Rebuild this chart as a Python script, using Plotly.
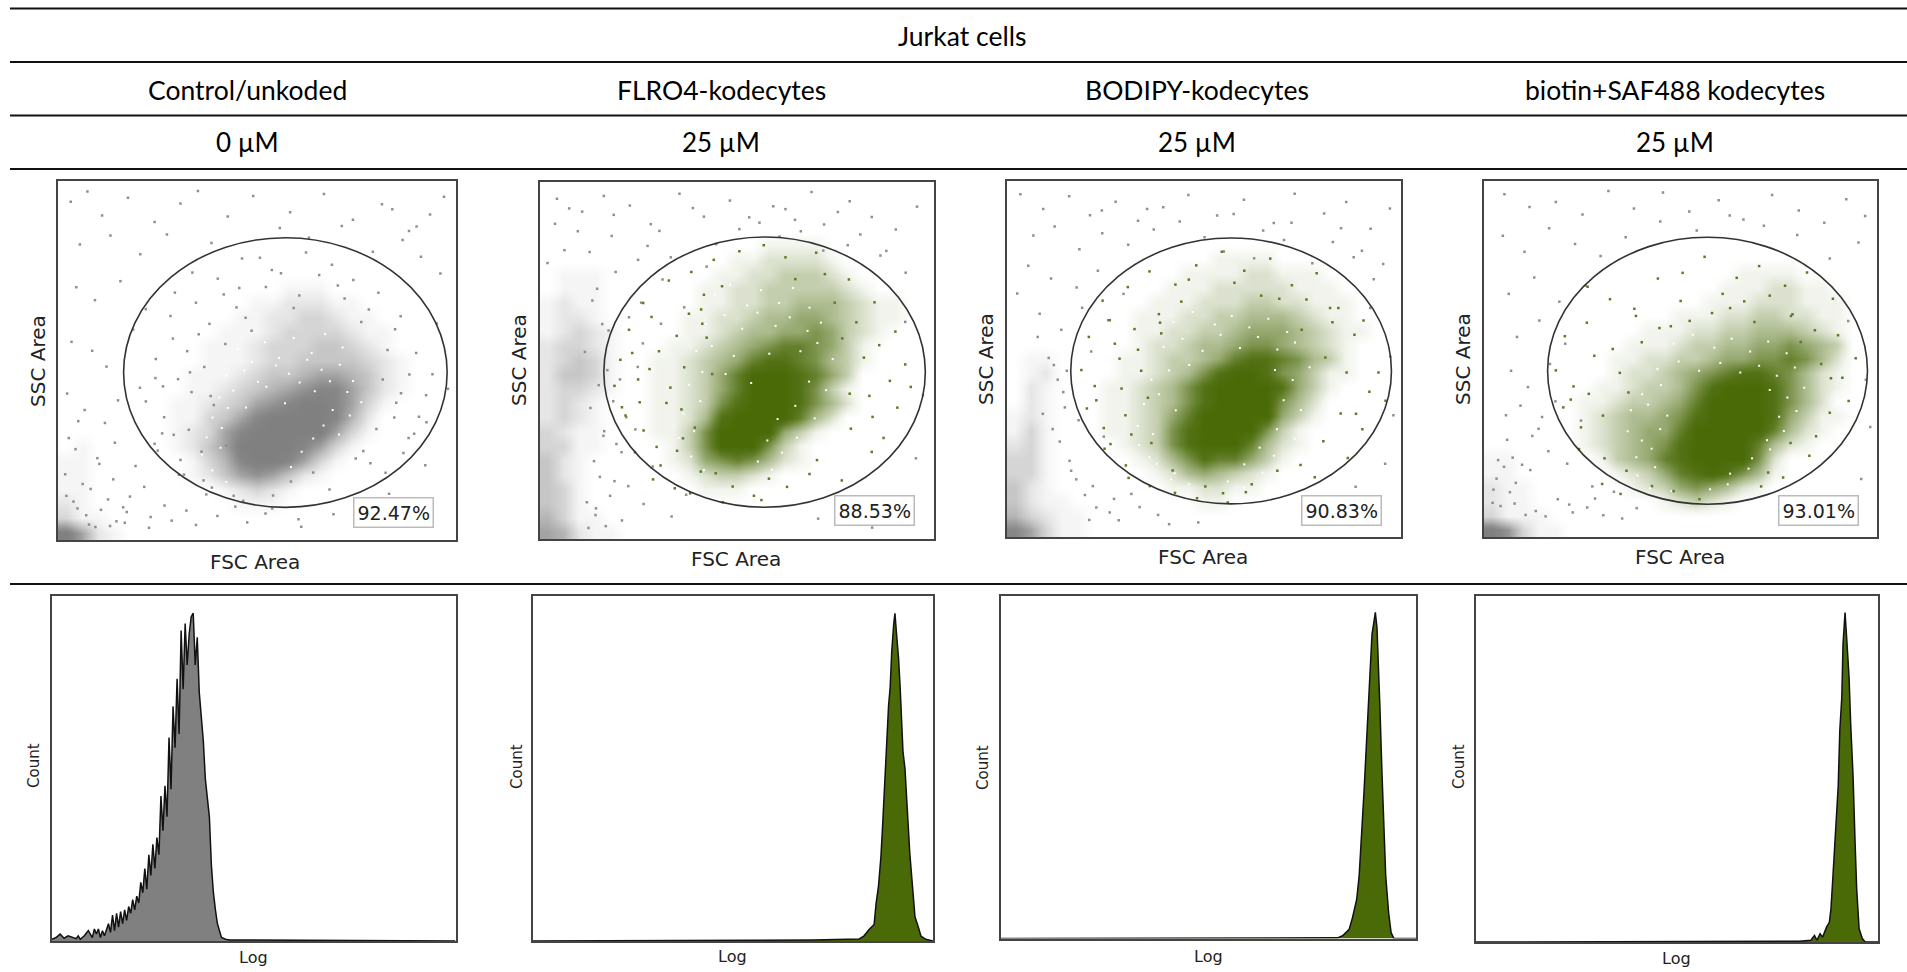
import plotly.graph_objects as go

W, H = 1907, 972
GREEN = "#4a6a08"
GREY = "#808080"

# ---------- text ----------
TITLE = "Jurkat cells"
COLUMNS = ["Control/unkoded", "FLRO4-kodecytes", "BODIPY-kodecytes", "biotin+SAF488 kodecytes"]
DOSES = ["0 µM", "25 µM", "25 µM", "25 µM"]
GATE_PCT = ["92.47%", "88.53%", "90.83%", "93.01%"]

# ---------- gate ellipses, in axis units (x0, x1, y0, y1) ----------
GATES = [
    (16.5, 97.9, 9.1, 84.2),
    (16.2, 97.8, 8.9, 84.6),
    (16.2, 97.7, 9.3, 84.0),
    (16.2, 97.7, 9.2, 84.2),
]

# ---------- density: y row -> (first column, digits 0-9) ----------
CLOUD_1 = {70: (14, "111"), 66: (12, "1122211"), 62: (11, "112233211"), 58: (10, "11123333211"),
           54: (9, "111233344321"), 50: (9, "1112334444321"), 46: (8, "11123445665421"),
           42: (8, "11234567886421"), 38: (7, "11234678998631"), 34: (7, "1134689999852"),
           30: (7, "1236899999631"), 26: (7, "124699998631"), 22: (8, "1358998631"),
           18: (8, "124676421"), 14: (10, "12321"), 10: (11, "111")}
CLOUD_2 = {82: (14, "1111"), 78: (12, "1122221"), 74: (11, "112233321"), 70: (10, "11223333321"),
           66: (10, "1122334443211"), 62: (9, "11223445543211"), 58: (9, "1123445565321"),
           54: (8, "1123456776531"), 50: (7, "11234578876431"), 46: (7, "1123579998753"),
           42: (7, "1123579998631"), 38: (7, "1123689998642"), 34: (7, "112489999742"),
           30: (7, "11369999531"), 26: (8, "136999631"), 22: (8, "125676421"), 18: (9, "123321"), 14: (10, "111")}
CLOUD_3 = {78: (13, "1111"), 74: (11, "111122111"), 70: (10, "11122222111"), 66: (9, "1112223322111"),
           62: (8, "11122334443211"), 58: (8, "112233455543211"), 54: (8, "12234456654321"),
           50: (7, "112334578876431"), 46: (7, "112346899865311"), 42: (6, "112346899998531"),
           38: (6, "11234689999642"), 34: (6, "11235799999531"), 30: (6, "1123689999631"),
           26: (7, "123689997421"), 22: (8, "1246877531"), 18: (9, "12454321"), 14: (10, "112211"), 10: (12, "11")}
CLOUD_4 = {74: (16, "1111"), 70: (15, "1112211"), 66: (14, "111222111"), 62: (12, "11122332211"),
           58: (10, "1112233444321"), 54: (9, "11123344556543"), 50: (8, "112233455667642"),
           46: (8, "122345678876421"), 42: (7, "1123346899986421"), 38: (6, "1123345799998642"),
           34: (6, "12344568999985311"), 30: (6, "1234557999997421"), 26: (6, "123456899997421"),
           22: (7, "134578999962"), 18: (8, "12357898641"), 14: (9, "123565421"), 10: (11, "12321")}
DEBRIS_1 = {26: (1, "1"), 22: (0, "11"), 18: (0, "11"), 14: (0, "11"), 10: (0, "21"), 6: (0, "311"), 2: (0, "9621")}
DEBRIS_2 = {74: (1, "111"), 70: (1, "111"), 66: (0, "1211"), 62: (0, "1221"), 58: (0, "12321"), 54: (0, "23321"),
            50: (0, "23431"), 46: (0, "24431"), 42: (0, "23321"), 38: (0, "2321"), 34: (0, "2321"), 30: (0, "3211"),
            26: (0, "3311"), 22: (0, "421"), 18: (0, "421"), 14: (0, "431"), 10: (0, "431"), 6: (0, "5311"), 2: (0, "65211")}
DEBRIS_3 = {50: (1, "11"), 46: (1, "12"), 42: (1, "21"), 38: (1, "21"), 34: (0, "121"), 30: (0, "131"), 26: (0, "231"),
            22: (0, "331"), 18: (0, "331"), 14: (0, "421"), 10: (0, "4211"), 6: (0, "53211"), 2: (0, "86311")}
DEBRIS_4 = {22: (0, "11"), 18: (0, "11"), 14: (0, "211"), 10: (0, "211"), 6: (0, "3111"), 2: (0, "97311")}

# ---------- sparse events ----------
OUT_X_1 = [3.2, 7.4, 11.1, 17.6, 24.3, 30.8, 35.2, 42.7, 49.1, 58.4, 66.9, 74.2, 81.5, 88.3, 93.6, 97.1, 5.5, 13.2, 20.7, 27.4, 38.6, 46.3, 55.8, 63.1, 71.4, 79.2, 86.7, 91.3, 96.2,
           4.6, 9.3, 15.7, 22.1, 29.4, 33.8, 3.4, 8.6, 12.2, 18.9, 24.5, 2.3, 6.7, 11.8, 15.1, 20.6, 26.2, 4.4, 9.9, 14.3, 19.5, 25.1, 31.7, 37.3, 44.6, 52.2, 60.5, 77.8, 95.3, 98.1, 92.4,
           1.8, 6.2, 10.4, 13.9, 18.1, 21.7, 26.8, 32.3, 40.1, 47.6, 53.9, 61.2, 69.3, 76.5, 84.1, 90.2, 2.7, 5.1, 8.2, 12.6, 16.4, 23.3, 3.9, 7.1, 10.8, 14.7, 17.3, 28.6, 34.7, 2.1, 4.9, 7.8, 9.4, 13.1, 16.8, 22.9]
OUT_Y_1 = [94.2, 97.1, 90.4, 95.3, 88.6, 93.7, 97.2, 90.1, 95.8, 91.3, 96.4, 89.2, 93.5, 86.1, 90.7, 95.6, 82.3, 84.8, 79.6, 85.1, 82.7, 78.4, 86.9, 84.2, 87.5, 80.3, 83.6, 78.9, 74.2,
           70.4, 66.8, 72.1, 64.3, 68.9, 74.5, 55.2, 52.7, 48.3, 58.6, 45.1, 40.8, 36.2, 32.6, 38.9, 42.4, 29.7, 25.3, 22.8, 27.1, 20.6, 24.9, 18.2, 12.7, 9.3, 7.4, 5.8, 4.6, 60.3, 42.1, 20.8,
           18.3, 15.6, 21.2, 16.9, 12.1, 14.8, 9.6, 8.2, 6.7, 4.9, 8.8, 3.7, 7.2, 5.6, 92.1, 87.3, 28.4, 33.1, 14.2, 11.3, 9.1, 6.4, 10.7, 6.9, 8.4, 5.2, 7.8, 5.4, 4.2, 12.3, 8.8, 4.3, 3.6, 3.9, 4.8, 3.4]
IN_X_1 = [28.3, 34.7, 40.2, 45.6, 50.8, 56.1, 62.4, 68.9, 74.3, 80.6, 86.2, 32.5, 38.1, 44.9, 52.3, 60.7, 70.4, 78.2, 84.8, 90.1, 24.6, 30.2, 36.8, 42.1, 48.7, 76.3, 82.9, 88.4, 92.6,
          22.1, 26.7, 32.9, 38.4, 86.3, 90.8, 94.2, 24.3, 30.8, 36.1, 84.6, 88.2, 92.7, 30.4, 36.6, 42.3, 80.1, 86.9, 38.7, 44.2, 76.8, 82.4, 46.6, 54.1, 68.3, 74.9, 58.6, 64.2,
          35.4, 41.7, 47.2, 53.8, 59.3, 65.7, 72.1, 28.9, 33.6, 39.2, 81.7, 85.1, 89.6, 33.2, 29.1, 26.4, 78.6, 83.3]
IN_Y_1 = [62.4, 66.1, 72.8, 70.2, 78.6, 74.3, 80.1, 76.7, 72.4, 68.9, 62.3, 52.6, 60.2, 64.8, 70.5, 68.1, 70.9, 64.2, 58.7, 52.1, 50.4, 44.8, 48.2, 54.6, 58.3, 60.7, 52.9, 46.1, 40.3,
          38.6, 34.2, 30.7, 40.1, 40.9, 34.3, 46.2, 26.8, 22.3, 24.6, 34.1, 28.4, 32.8, 18.2, 16.6, 26.3, 30.9, 24.2, 14.6, 12.3, 24.8, 18.7, 10.9, 12.4, 14.1, 22.7, 16.3, 18.8,
          57.3, 68.4, 61.9, 75.2, 64.6, 73.8, 67.3, 56.1, 41.2, 37.6, 44.7, 38.2, 29.6, 46.7, 29.3, 42.8, 21.4, 12.9]
WHITE_X_1 = [45.2, 48.7, 52.1, 55.6, 59.3, 63.8, 67.2, 71.6, 42.4, 46.9, 50.3, 54.8, 58.1, 62.7, 66.3, 70.9, 74.2, 40.6, 44.1, 72.8, 76.3, 38.9, 42.7, 69.1, 73.4, 37.4, 41.2, 66.8, 70.7, 36.2, 40.9, 64.2, 38.8, 61.3, 42.3, 58.6, 52.4, 57.1, 60.8, 64.6, 68.4, 47.3]
WHITE_Y_1 = [53.2, 49.6, 55.1, 50.7, 56.3, 52.1, 57.4, 53.6, 45.8, 47.2, 44.1, 48.6, 46.3, 50.2, 47.4, 48.8, 44.3, 39.7, 41.6, 41.2, 38.4, 34.1, 36.8, 36.2, 34.7, 28.6, 31.2, 31.9, 29.4, 23.8, 25.7, 28.3, 19.4, 24.6, 16.2, 20.3, 42.7, 38.1, 43.9, 41.4, 44.2, 36.9]
OUT_X_2 = [4.3, 10.7, 16.2, 22.8, 28.1, 35.4, 41.6, 48.2, 55.7, 62.3, 68.9, 72.1, 78.6, 84.2, 90.3, 95.7, 12.6, 18.2, 24.9, 30.3, 44.7, 53.1, 60.8, 66.2, 71.9, 78.1, 86.4, 92.8,
           14.5, 19.2, 25.7, 31.1, 36.6, 42.3, 17.4, 22.6, 26.1, 30.7, 20.3, 24.8, 18.6, 21.9, 16.1, 20.7, 24.2, 18.9, 22.4, 28.6, 14.2, 20.8, 26.3, 33.4, 37.1, 70.6, 84.3, 92.7, 97.2, 95.4,
           13.3, 15.8, 11.4, 17.1, 14.9, 12.8, 16.3, 19.4, 13.7, 15.2, 17.8, 11.9, 14.1, 16.7, 12.3, 75.6, 81.3, 87.9, 59.2, 64.7, 50.6, 38.8, 33.2, 27.3, 18.7, 9.6, 6.2, 1.9, 3.8, 7.4]
OUT_Y_2 = [95.3, 91.7, 96.1, 93.4, 88.2, 96.7, 90.3, 94.8, 88.6, 92.4, 97.2, 88.1, 94.6, 90.2, 86.7, 93.1, 80.4, 84.9, 78.2, 86.3, 82.6, 90.1, 84.7, 86.2, 80.8, 82.3, 79.4, 74.6,
           70.1, 74.8, 66.2, 72.7, 64.9, 76.3, 58.4, 62.1, 54.8, 60.3, 44.7, 48.2, 38.6, 34.1, 28.9, 24.3, 30.7, 16.2, 14.8, 20.3, 8.6, 5.2, 9.8, 6.3, 12.4, 5.7, 3.2, 60.8, 40.3, 22.6,
           66.8, 60.2, 52.4, 47.3, 43.1, 36.7, 30.2, 26.6, 21.8, 17.4, 12.1, 10.3, 6.7, 3.6, 3.1, 91.6, 85.3, 80.7, 93.2, 89.4, 86.8, 92.7, 78.9, 82.1, 90.8, 86.2, 80.9, 77.3, 88.3, 92.6]
IN_X_2 = [26.2, 32.7, 38.4, 44.1, 50.6, 56.8, 62.3, 70.1, 78.4, 84.9, 90.2, 22.6, 28.3, 34.7, 40.9, 46.2, 74.8, 80.3, 86.1, 92.7, 20.4, 24.9, 30.2, 36.6, 42.3, 76.7, 82.2, 88.8, 94.1,
          20.8, 26.3, 32.1, 78.6, 84.4, 90.7, 24.1, 30.6, 36.3, 78.9, 84.2, 28.7, 34.2, 40.8, 70.3, 76.6, 38.1, 46.4, 56.2, 62.7, 68.4, 48.9, 54.3, 44.6, 58.1,
          23.4, 27.8, 33.1, 35.9, 29.6, 37.8, 41.2, 43.7, 25.3, 18.9, 21.7, 83.6, 87.2, 72.3, 64.8, 41.6, 39.3, 34.8]
IN_Y_2 = [66.1, 72.4, 74.8, 78.2, 80.6, 82.3, 78.9, 80.2, 72.7, 66.3, 58.1, 58.6, 62.2, 56.9, 64.3, 70.8, 66.2, 60.7, 54.3, 48.9, 50.2, 44.7, 52.6, 48.1, 56.4, 56.2, 50.8, 44.3, 42.6,
          36.9, 30.4, 38.1, 40.7, 34.2, 36.8, 24.3, 20.6, 28.2, 30.9, 24.4, 16.7, 14.2, 18.9, 22.1, 16.4, 12.8, 10.3, 10.9, 14.6, 18.2, 14.7, 12.1, 18.4, 16.9,
          52.1, 47.6, 42.4, 36.3, 25.8, 63.1, 60.3, 46.2, 38.3, 42.9, 34.6, 40.1, 28.3, 74.2, 72.8, 68.4, 31.2, 24.7]
WHITE_X_2 = [44.3, 48.2, 52.6, 56.1, 60.7, 64.2, 68.4, 42.1, 46.8, 51.3, 55.2, 59.8, 63.4, 67.9, 71.3, 39.7, 43.6, 49.2, 66.1, 70.4, 74.3, 37.8, 41.2, 68.3, 72.6, 36.4, 40.7, 64.8, 69.7, 35.2, 39.1, 60.3, 65.2, 38.4, 57.7, 61.4, 41.6, 55.3, 58.9, 47.1, 53.6, 58.2]
WHITE_Y_2 = [68.3, 71.2, 65.4, 69.7, 66.1, 70.3, 64.8, 60.2, 62.7, 58.9, 63.4, 59.7, 62.1, 58.3, 60.6, 52.7, 54.1, 51.3, 52.6, 54.9, 50.4, 43.2, 46.8, 44.1, 41.7, 35.1, 38.6, 37.3, 33.8, 28.3, 30.2, 33.6, 28.4, 23.1, 27.6, 24.2, 19.3, 21.7, 19.4, 46.2, 43.7, 51.9]
OUT_X_3 = [3.4, 9.2, 15.8, 21.1, 27.6, 33.3, 39.7, 46.1, 53.4, 60.2, 67.8, 73.1, 80.6, 86.2, 92.4, 97.3, 6.7, 12.1, 18.4, 24.2, 30.8, 37.3, 43.9, 50.2, 57.6, 65.1, 72.3, 82.8, 90.2, 95.6,
           5.4, 11.2, 17.7, 23.1, 29.6, 8.3, 13.8, 19.1, 25.7, 10.6, 15.2, 21.4, 14.7, 18.2, 24.6, 16.3, 21.8, 27.2, 33.7, 38.4, 20.9, 26.1, 31.6, 92.3, 97.4, 98.2, 96.1, 88.6, 76.3, 82.7,
           12.9, 14.3, 9.1, 11.6, 13.4, 15.9, 17.6, 19.8, 22.7, 28.4, 41.2, 48.6, 55.1, 62.8, 70.4, 77.6, 84.9, 93.2, 88.1, 35.6, 24.1, 2.6, 7.8, 11.9]
OUT_Y_3 = [96.3, 92.1, 95.7, 90.4, 94.2, 88.8, 92.6, 96.1, 90.3, 94.7, 88.2, 96.4, 90.9, 94.1, 86.6, 92.3, 84.7, 87.2, 80.8, 85.3, 82.1, 86.4, 88.6, 84.2, 90.7, 86.1, 88.3, 82.9, 80.4, 76.7,
           76.2, 72.6, 70.1, 74.8, 68.3, 62.7, 58.2, 64.4, 60.9, 50.3, 46.7, 52.1, 36.4, 32.8, 28.2, 18.6, 14.3, 10.7, 8.4, 6.2, 4.8, 6.9, 12.1, 64.3, 50.7, 34.2, 20.6, 14.1, 4.3, 6.6,
           44.2, 40.7, 34.6, 30.3, 26.8, 21.4, 16.2, 11.8, 8.3, 4.7, 3.6, 4.1, 80.2, 78.3, 83.4, 76.9, 86.7, 72.4, 78.6, 92.1, 91.7, 68.4, 56.2, 48.3]
IN_X_3 = [24.3, 30.7, 36.2, 42.8, 48.1, 54.6, 60.3, 66.9, 72.4, 78.7, 84.2, 90.6, 20.8, 26.1, 32.4, 38.6, 44.3, 76.1, 82.7, 88.3, 94.4, 18.9, 22.3, 28.6, 34.1, 80.9, 86.3, 92.1, 96.2,
          20.3, 24.6, 30.1, 84.8, 90.3, 24.8, 30.2, 36.7, 80.4, 86.6, 30.9, 36.3, 42.1, 74.6, 78.2, 42.7, 48.3, 54.9, 62.2, 68.7, 50.4, 56.1, 60.7,
          27.4, 33.3, 39.2, 22.7, 29.1, 35.8, 26.3, 31.6, 38.9, 88.7, 82.1, 69.2, 74.9, 57.8, 64.6, 46.2]
IN_Y_3 = [66.4, 70.2, 74.6, 70.9, 76.3, 80.1, 74.8, 78.2, 70.7, 74.1, 64.3, 60.8, 56.2, 60.9, 58.4, 62.6, 66.1, 66.7, 60.3, 56.8, 46.2, 46.9, 42.4, 50.1, 46.7, 50.4, 46.2, 40.8, 38.3,
          36.1, 30.6, 34.2, 34.7, 30.3, 24.8, 20.1, 26.4, 26.9, 22.2, 16.6, 14.3, 18.7, 20.2, 16.8, 12.4, 10.9, 12.3, 14.8, 18.6, 14.2, 9.7, 12.6,
          54.3, 52.6, 57.2, 38.4, 41.7, 39.1, 26.1, 28.8, 60.2, 34.6, 64.3, 66.9, 58.2, 71.4, 67.8, 72.3]
WHITE_X_3 = [42.3, 47.2, 52.8, 57.1, 61.6, 66.4, 71.2, 39.8, 44.6, 49.7, 54.3, 59.2, 63.8, 68.7, 73.2, 36.7, 41.2, 46.3, 68.1, 72.6, 76.9, 34.8, 38.6, 42.9, 70.3, 74.7, 33.2, 37.1, 68.6, 73.1, 33.6, 36.2, 64.2, 67.8, 38.1, 42.6, 60.3, 64.9, 41.7, 46.3, 56.1, 60.2]
WHITE_Y_3 = [60.4, 63.2, 59.7, 62.1, 58.9, 61.3, 57.6, 53.4, 55.7, 52.3, 56.8, 53.1, 56.2, 52.7, 54.6, 44.2, 46.8, 48.3, 46.9, 44.1, 47.7, 37.3, 40.1, 35.6, 38.4, 35.7, 31.2, 28.9, 30.3, 27.6, 25.8, 22.4, 25.1, 22.8, 20.6, 17.9, 20.4, 18.1, 16.2, 14.8, 15.6, 13.9]
OUT_X_4 = [5.2, 11.6, 18.3, 25.1, 31.7, 38.2, 45.6, 52.3, 59.8, 66.1, 73.4, 80.2, 86.7, 92.3, 97.1, 4.8, 10.3, 16.6, 23.2, 29.7, 36.1, 44.9, 54.2, 62.6, 71.3, 79.8, 88.1, 95.4,
           6.3, 12.8, 19.2, 25.9, 8.4, 14.1, 20.7, 6.9, 11.2, 16.8, 5.6, 9.3, 13.9, 18.2, 24.7, 7.3, 11.8, 16.4, 21.2, 27.6, 33.1, 38.9, 3.2, 6.6, 9.7, 92.8, 97.3, 98.4, 96.1, 88.6, 78.2, 85.3,
           2.4, 4.2, 7.8, 10.6, 13.2, 15.7, 18.8, 22.6, 26.3, 30.4, 35.2, 12.3, 14.8, 3.6, 5.9, 8.1, 21.7, 28.3, 2.2, 5.1]
OUT_Y_4 = [96.3, 92.7, 94.1, 90.6, 97.2, 92.3, 96.8, 91.4, 94.6, 89.2, 96.1, 91.7, 88.3, 94.9, 90.2, 84.6, 80.1, 86.7, 82.3, 78.9, 84.2, 88.6, 86.1, 90.3, 87.4, 84.8, 78.2, 82.7,
           68.3, 72.9, 66.1, 70.6, 56.2, 60.8, 54.3, 46.7, 42.1, 48.6, 34.2, 36.9, 30.4, 38.1, 32.7, 22.3, 18.8, 24.1, 20.6, 14.2, 12.7, 8.1, 16.4, 12.6, 20.3, 60.7, 44.2, 30.9, 16.3, 10.8, 4.1, 6.7,
           13.3, 8.7, 9.4, 6.2, 7.3, 5.8, 10.6, 6.9, 8.3, 6.1, 5.2, 28.4, 33.7, 21.6, 27.3, 15.2, 9.1, 10.8, 9.6, 19.7]
IN_X_4 = [26.4, 32.1, 38.7, 44.3, 50.6, 56.2, 60.8, 64.4, 70.1, 76.7, 82.3, 88.9, 20.6, 26.2, 32.8, 38.3, 44.7, 50.1, 78.6, 84.3, 90.2, 94.7, 18.3, 22.8, 28.1, 34.6, 40.2, 88.4, 92.9,
          20.2, 24.7, 30.3, 36.8, 88.1, 84.6, 24.2, 30.7, 36.3, 78.1, 82.9, 72.4, 76.2, 42.8, 48.3, 54.9, 70.6, 30.1, 34.8,
          62.7, 66.3, 72.8, 78.2, 68.9, 58.1, 52.4, 47.6, 80.7, 85.9, 91.3, 26.7, 22.1]
IN_Y_4 = [70.3, 66.8, 62.1, 72.6, 74.2, 78.7, 68.3, 72.8, 76.1, 70.6, 74.3, 66.9, 56.4, 60.2, 52.8, 64.1, 58.7, 66.3, 62.6, 58.1, 56.7, 50.2, 46.8, 42.3, 50.9, 46.1, 54.7, 44.6, 38.2,
          36.4, 30.8, 34.1, 40.6, 34.9, 28.3, 24.7, 22.1, 18.6, 26.4, 22.8, 18.1, 16.7, 14.3, 12.9, 10.6, 14.2, 14.9, 12.1,
          64.3, 66.2, 67.8, 62.1, 60.4, 62.9, 60.7, 59.2, 54.8, 48.6, 44.7, 40.2, 38.6]
WHITE_X_4 = [48.3, 53.2, 58.7, 63.1, 67.8, 72.4, 77.1, 44.2, 49.6, 54.8, 60.2, 65.3, 70.1, 74.6, 79.2, 40.3, 45.1, 72.8, 77.3, 81.6, 37.4, 41.8, 46.7, 75.2, 79.6, 36.6, 40.2, 44.9, 72.1, 76.4, 38.8, 42.7, 68.3, 72.9, 39.1, 43.6, 62.7, 67.4, 42.3, 47.8, 57.6, 62.1]
WHITE_Y_4 = [54.3, 56.8, 53.2, 55.7, 52.1, 54.9, 51.6, 47.2, 49.3, 46.7, 48.9, 46.2, 48.1, 45.3, 47.6, 40.1, 42.7, 41.3, 39.2, 41.9, 35.6, 37.2, 34.1, 33.8, 35.4, 29.7, 27.1, 30.3, 27.2, 29.8, 22.4, 24.8, 22.1, 24.6, 17.3, 19.6, 17.8, 19.2, 13.7, 12.9, 13.4, 14.8]

# ---------- histograms: log bin position and count in percent of the frame ----------
HIST_X_1 = [0, 1, 2, 3, 4, 5, 6, 6.5, 7, 8, 9, 10, 10.5, 11, 11.5, 12, 12.5, 13, 14, 14.5, 15, 15.5, 16, 16.5, 17, 17.5, 18, 18.5,
            19, 19.5, 20, 20.5, 21, 21.5, 22, 22.5, 23, 23.5, 24, 24.5, 25, 25.5, 26, 26.5, 27, 27.5, 28, 28.5, 29, 29.5, 30,
            30.5, 31, 31.5, 32, 32.5, 33, 33.5, 34, 34.5, 35, 35.5, 36, 36.5, 37, 37.5, 38, 38.5, 39, 39.5, 40, 40.5, 41, 41.5, 42, 43, 44, 100]
HIST_Y_1 = [0.5, 1, 2, 0.8, 1.5, 1, 0.7, 1.5, 0.5, 1.5, 3, 1, 3.5, 2, 3.5, 1, 3, 1.5, 5, 2.5, 7.5, 3, 8, 4, 8.5, 5, 9, 6,
            10, 8, 12, 9, 13, 11, 17, 14, 21, 15, 25, 19, 28, 21, 30, 25, 42, 32, 45, 36, 59, 44, 68,
            56, 76, 60, 90, 73, 92, 80, 89, 94, 95, 80, 88, 72, 66, 58, 47, 42, 36, 22, 14, 9, 5, 3, 1, 0.5, 0.3, 0, 0]
HIST_X_2 = [0, 40, 55, 70, 76, 80, 81.6, 82.8, 84.1, 85.3, 85.8, 86.4, 87, 87.4, 87.8, 88.2, 88.9, 89.3, 89.7, 90.2, 90.5, 90.9, 91.4,
            91.8, 92.2, 92.5, 93, 93.6, 94.2, 94.8, 95.5, 96.4, 97, 98.2, 100]
HIST_Y_2 = [0, 0, 0.2, 0.3, 0.4, 0.5, 0.6, 1.5, 3.4, 4.8, 11, 16, 24.5, 33, 42, 53, 68, 73.5, 84, 92, 95, 89, 82,
            73.5, 63, 55, 50, 36, 25.5, 17, 7, 3.8, 1.4, 0.5, 0]
HIST_X_3 = [0, 60, 76, 81.1, 82.3, 83.9, 84.7, 85.7, 86.3, 86.9, 87.5, 88.1, 88.7, 89.4, 89.8, 90.2, 90.6, 90.8, 91.3, 91.8, 92.3, 92.7,
            93.4, 94, 94.7, 100]
HIST_Y_3 = [0, 0, 0.1, 0.2, 0.8, 2.7, 6.1, 11.4, 18.2, 29.8, 43.4, 57.9, 74.5, 88.9, 91.9, 95.2, 90.7, 82, 67.8, 48.4, 31.9, 18.3,
            7.6, 1.7, 0, 0]
HIST_X_4 = [0, 50, 70, 80.4, 83.3, 84.2, 84.8, 85.6, 86.2, 87.2, 87.9, 88.3, 88.7, 89.3, 89.7, 90.1, 90.5, 91, 91.3, 91.8, 92.2, 92.8,
            93.2, 93.8, 94.3, 94.7, 95.3, 96.1, 96.8, 100]
HIST_Y_4 = [0, 0, 0.1, 0.2, 0.5, 1.9, 0.5, 2.4, 1.4, 4.3, 5.7, 9.6, 17.2, 30.6, 35.4, 45, 61.2, 70.8, 86.1, 95.2, 88, 76.5,
            63.2, 47.8, 28.7, 15.3, 3.8, 1, 0, 0]

# ---------- layout in pixels ----------
SCATTER_BOX = [(58, 455.5, 181, 540), (540, 934, 182, 539), (1007, 1400.5, 181, 537), (1484, 1876.5, 181, 537)]
HIST_BOX = [(52, 455.5, 596, 941), (532.5, 933, 596, 941), (1001, 1416, 596, 938.5), (1476, 1878, 596, 942)]
RULES_Y = [8.5, 62, 115.5, 169, 584]
COL_CX = [247, 721, 1197, 1675]
FSC_POS = [(255, 562), (736, 559), (1203, 557), (1680, 557)]
SSC_POS = [(38, 361), (519, 360), (986, 359), (1463, 359)]
LOG_POS = [(253, 957), (732, 956), (1208, 956), (1676, 958)]
COUNT_POS = [(34, 766), (517, 767), (983, 767), (1459, 767)]
PCT_POS = [(393, 512), (874, 511), (1341, 510), (1818, 511)]

HEAD_FONT = "Lato, sans-serif"
PLOT_FONT = "DejaVu Sans, sans-serif"

fig = go.Figure()
cx = [2 + 4 * i for i in range(25)]
cy = [98 - 4 * i for i in range(25)]


def grid(table):
    out = []
    for y in cy:
        row = [0] * 25
        if y in table:
            start, digits = table[y]
            for k, c in enumerate(digits):
                if start + k < 25:
                    row[start + k] = int(c)
        out.append(row)
    return out


def scale(rgb):
    stops = [0, 0.08, 0.2, 0.33, 0.45, 0.58, 0.72, 0.85, 0.95, 1]
    return [[i / 9, f"rgba({rgb},{a})"] for i, a in enumerate(stops)]


def ax(**kw):
    kw.update(showgrid=False, zeroline=False, showticklabels=False, ticks="", showline=True, mirror=True,
              linecolor="#444444", linewidth=1.5, range=[0, 100], fixedrange=True)
    return kw


def px2paper(p):
    return p[0] / W, 1 - p[1] / H


clouds = [CLOUD_1, CLOUD_2, CLOUD_3, CLOUD_4]
debris = [DEBRIS_1, DEBRIS_2, DEBRIS_3, DEBRIS_4]
outs = [(OUT_X_1, OUT_Y_1), (OUT_X_2, OUT_Y_2), (OUT_X_3, OUT_Y_3), (OUT_X_4, OUT_Y_4)]
ins = [(IN_X_1, IN_Y_1), (IN_X_2, IN_Y_2), (IN_X_3, IN_Y_3), (IN_X_4, IN_Y_4)]
whites = [(WHITE_X_1, WHITE_Y_1), (WHITE_X_2, WHITE_Y_2), (WHITE_X_3, WHITE_Y_3), (WHITE_X_4, WHITE_Y_4)]
hists = [(HIST_X_1, HIST_Y_1), (HIST_X_2, HIST_Y_2), (HIST_X_3, HIST_Y_3), (HIST_X_4, HIST_Y_4)]

layout = {}
shapes = []
annots = []


def label(text, pos, size, font=PLOT_FONT, angle=0, color="#222222", **kw):
    x, y = px2paper(pos)
    annots.append(dict(text=text, x=x, y=y, xref="paper", yref="paper", xanchor="center", yanchor="middle",
                       showarrow=False, textangle=angle, font=dict(family=font, size=size, color=color), **kw))


for i in range(4):
    main = GREY if i == 0 else GREEN
    rgb = "128,128,128" if i == 0 else "74,106,8"
    xa, ya = f"x{2*i+1}", f"y{2*i+1}"
    fig.add_trace(go.Heatmap(x=cx, y=cy, z=grid(debris[i]), zmin=0, zmax=9, zsmooth="best", showscale=False,
                             colorscale=scale("128,128,128"), hoverinfo="skip", xaxis=xa, yaxis=ya))
    fig.add_trace(go.Heatmap(x=cx, y=cy, z=grid(clouds[i]), zmin=0, zmax=9, zsmooth="best", showscale=False,
                             colorscale=scale(rgb), hoverinfo="skip", xaxis=xa, yaxis=ya))
    fig.add_trace(go.Scatter(x=whites[i][0], y=whites[i][1], mode="markers", xaxis=xa, yaxis=ya, hoverinfo="skip",
                             marker=dict(color="white", size=2, symbol="square", line_width=0)))
    fig.add_trace(go.Scatter(x=outs[i][0], y=outs[i][1], mode="markers", xaxis=xa, yaxis=ya, hoverinfo="skip",
                             marker=dict(color="#8f8f8f", size=2.5, symbol="square", line_width=0)))
    fig.add_trace(go.Scatter(x=ins[i][0], y=ins[i][1], mode="markers", xaxis=xa, yaxis=ya, hoverinfo="skip",
                             marker=dict(color="#8f8f8f" if i == 0 else "#5d7a25", size=2.5, symbol="square", line_width=0)))
    xa2, ya2 = f"x{2*i+2}", f"y{2*i+2}"
    fig.add_trace(go.Scatter(x=hists[i][0], y=hists[i][1], mode="lines", fill="tozeroy", fillcolor=main,
                             line=dict(color="#111111", width=1.5), xaxis=xa2, yaxis=ya2, hoverinfo="skip"))

    b = SCATTER_BOX[i]
    layout[f"xaxis{2*i+1}"] = ax(domain=[b[0] / W, b[1] / W], anchor=ya)
    layout[f"yaxis{2*i+1}"] = ax(domain=[1 - b[3] / H, 1 - b[2] / H], anchor=xa)
    b = HIST_BOX[i]
    layout[f"xaxis{2*i+2}"] = ax(domain=[b[0] / W, b[1] / W], anchor=ya2)
    layout[f"yaxis{2*i+2}"] = ax(domain=[1 - b[3] / H, 1 - b[2] / H], anchor=xa2)

    g = GATES[i]
    shapes.append(dict(type="circle", xref=xa, yref=ya, x0=g[0], x1=g[1], y0=g[2], y1=g[3],
                       line=dict(color="#333333", width=1.6), layer="above"))

    label(COLUMNS[i], (COL_CX[i], 89.5), 26.5, HEAD_FONT, color="#000000")
    label(DOSES[i], (COL_CX[i], 142), 26, HEAD_FONT, color="#000000")
    label("FSC Area", FSC_POS[i], 20)
    label("SSC Area", SSC_POS[i], 20, angle=-90)
    label("Log", LOG_POS[i], 16)
    label("Count", COUNT_POS[i], 15, angle=-90)
    label(GATE_PCT[i], PCT_POS[i], 19, bgcolor="white", bordercolor="#bbbbbb", borderwidth=1.5, borderpad=3)

label(TITLE, (962, 36), 26.5, HEAD_FONT, color="#000000")

for y in RULES_Y:
    shapes.append(dict(type="line", xref="paper", yref="paper", x0=10 / W, x1=1, y0=1 - y / H, y1=1 - y / H,
                       line=dict(color="#111111", width=2)))

fig.update_layout(width=W, height=H, margin=dict(l=0, r=0, t=0, b=0), paper_bgcolor="white", plot_bgcolor="white",
                  showlegend=False, shapes=shapes, annotations=annots, **layout)
fig.write_html("out.html", post_script="document.body.style.margin='0';", config={"displayModeBar": False})
